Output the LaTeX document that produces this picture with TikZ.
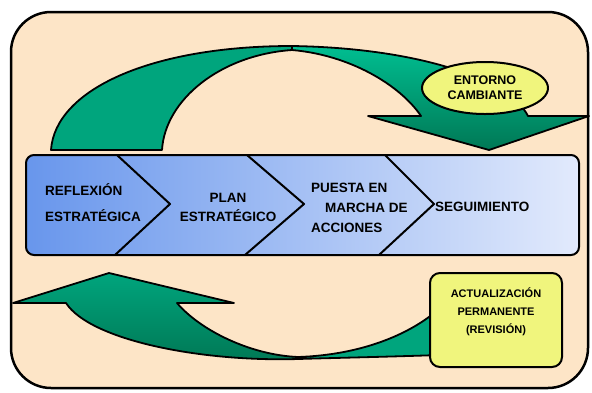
\documentclass[tikz,border=0pt]{standalone}
\usepackage{fontspec}
\setmainfont{Liberation Sans}
\usetikzlibrary{shapes, calc, positioning}

\definecolor{peach}{RGB}{253,229,199}
\definecolor{teal_lt}{RGB}{0,190,145}
\definecolor{teal_md}{RGB}{0,165,125}
\definecolor{teal_dk}{RGB}{0,120,85}
\definecolor{band_l}{RGB}{104,150,236}
\definecolor{band_r}{RGB}{226,234,252}
\definecolor{tag_yel}{RGB}{240,245,125}

\begin{document}
\begin{tikzpicture}[x=1pt, y=-1pt, line join=round]
    \tikzset{
        frame/.style={draw=black, line width=2.5pt, fill=peach, rounded corners=40pt},
        ribbon/.style={draw=black, line width=1.8pt},
        band/.style={draw=black, line width=2pt, rounded corners=8pt, left color=band_l, right color=band_r},
        stepline/.style={line width=2pt},
        step_text/.style={font=\fontsize{13.5}{20}\selectfont\bfseries, inner sep=0pt},
        tag/.style={draw=black, line width=2pt, fill=tag_yel}
    }
    \useasboundingbox (0,0) rectangle (592,392);

    % background frame
    \draw[frame] (11,12) rectangle (588,388);

    % upper arrow
    \coordinate (T_foot_o) at (51,150);
    \coordinate (T_foot_i) at (162,150);
    \coordinate (T_top_o) at (292,46);
    \coordinate (T_top_i) at (292,50);
    \filldraw[ribbon, fill=teal_md] (T_foot_o)
        .. controls (55,90) and (150,46) .. (T_top_o)
        -- (T_top_i)
        .. controls (220,55) and (165,100) .. (T_foot_i)
        -- cycle;
    \coordinate (T_head_l) at (368,116);
    \coordinate (T_head_r) at (589,116);
    \coordinate (T_tip) at (489,150);
    \shadedraw[ribbon, top color=teal_lt, bottom color=teal_dk] (T_top_o)
        .. controls (420,48) and (510,80) .. (528,116)
        -- (T_head_r) -- (T_tip) -- (T_head_l) -- (421,116)
        .. controls (400,85) and (350,55) .. (T_top_i)
        -- cycle;
    \node[tag, ellipse, minimum width=126pt, minimum height=52pt, inner sep=0pt,
          align=center, font=\fontsize{12.5}{15}\selectfont\bfseries] (entorno)
        at (485,88) {ENTORNO\\CAMBIANTE};

    % process band
    \shadedraw[band] (26,155) rectangle (579,255);
    \foreach \xt/\xm/\xb in {117/170/115, 247/304/245, 385/434/379}
        \draw[stepline] (\xt,155) -- (\xm,204) -- (\xb,255);
    \node[step_text, anchor=west, align=left] (reflexion) at (45,203)
        {REFLEXIÓN\\[6pt]ESTRATÉGICA};
    \node[step_text, align=center, font=\fontsize{13.5}{19}\selectfont\bfseries] (plan)
        at (228,207) {PLAN\\ESTRATÉGICO};
    \node[step_text, anchor=west, align=left] (puesta) at (311,208)
        {PUESTA EN\\\hspace*{14pt}MARCHA DE\\ACCIONES};
    \node[step_text, anchor=west] (seguim) at (435,207) {SEGUIMIENTO};

    % lower arrow
    \coordinate (B_tip) at (13,303);
    \coordinate (B_apex) at (109,273);
    \coordinate (B_barb) at (234,303);
    \coordinate (B_mid_i) at (298,357);
    \coordinate (B_mid_o) at (298,359);
    \filldraw[ribbon, fill=teal_md] (B_mid_i)
        .. controls (360,355) and (410,335) .. (440,308)
        -- (440,355)
        .. controls (380,357) and (330,358) .. (B_mid_o)
        -- cycle;
    \shadedraw[ribbon, top color=teal_md, bottom color=teal_dk] (B_tip)
        -- (B_apex) -- (B_barb) -- (177,303)
        .. controls (200,330) and (250,355) .. (B_mid_i)
        -- (B_mid_o)
        .. controls (200,362) and (90,340) .. (66,303)
        -- cycle;
    \node[tag, rounded corners=10pt, minimum width=132pt, minimum height=94pt] (upd_box)
        at (496,320) {};
    \node[font=\fontsize{11}{18}\selectfont\bfseries, align=center] (upd_text)
        at ($(upd_box.center)+(0,-8)$) {ACTUALIZACIÓN\\PERMANENTE\\(REVISIÓN)};
\end{tikzpicture}
\end{document}
